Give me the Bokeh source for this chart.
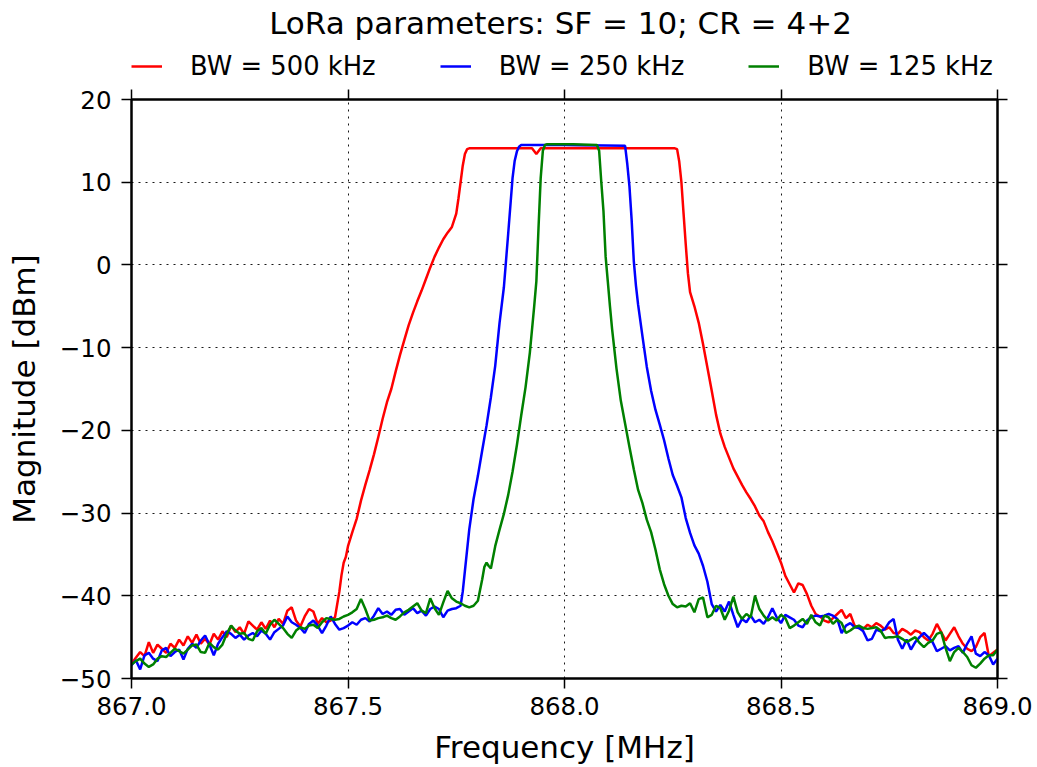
import numpy as np
from bokeh.plotting import figure
from bokeh.layouts import column
from bokeh.models import Range1d, FixedTicker, LinearAxis, Label, Legend, LegendItem
from bokeh.embed import file_html
from bokeh.resources import INLINE

FONT = "DejaVu Sans"

# ---------------- data ----------------
title_text = "LoRa parameters: SF = 10; CR = 4+2"
x_label = "Frequency [MHz]"
y_label = "Magnitude [dBm]"
series_names = ["BW = 500 kHz", "BW = 250 kHz", "BW = 125 kHz"]
series_colors = ["#ff0000", "#0000ff", "#008000"]
x_ticks = [867.0, 867.5, 868.0, 868.5, 869.0]
y_ticks = [-50, -40, -30, -20, -10, 0, 10, 20]

STEP = 0.01  # sampling step of the noise-floor segments [MHz]

# BW = 500 kHz
red_left_start = 867.00
red_left_mag = [-48.2, -47.5, -46.8, -47.3, -45.6, -46.9, -45.9, -46.4, -46.9, -45.8,
                -46.3, -45.3, -46.0, -44.9, -45.7, -44.7, -45.8, -45.2, -45.9, -44.6,
                -45.3, -44.3, -45.0, -43.6, -44.4, -43.8, -44.6, -43.1, -43.6, -44.1,
                -43.2, -44.0, -43.0, -43.8, -42.8, -43.4, -41.8, -41.4, -43.0, -43.7,
                -42.5, -41.6, -41.9, -43.4, -42.7, -43.2, -43.0, -42.6]
red_mid_freq = [867.48, 867.485, 867.49, 867.495, 867.50, 867.51, 867.52, 867.53, 867.54, 867.55,
                867.56, 867.57, 867.58, 867.59, 867.60, 867.61, 867.62, 867.63, 867.64, 867.65,
                867.66, 867.67, 867.68, 867.69, 867.70, 867.71, 867.72, 867.73, 867.74, 867.75,
                867.755, 867.76, 867.765, 867.77, 867.775, 867.78, 867.85, 867.925, 867.935, 867.945,
                868.0, 868.05, 868.1, 868.15, 868.2, 868.255, 868.26, 868.265, 868.27, 868.275,
                868.28, 868.285, 868.29, 868.30, 868.31, 868.32, 868.33, 868.34, 868.35, 868.36,
                868.37, 868.38, 868.39, 868.40, 868.41, 868.42, 868.43, 868.44, 868.45, 868.46,
                868.47, 868.48, 868.49, 868.50, 868.51, 868.52, 868.53, 868.54, 868.55, 868.56,
                868.57]
red_mid_mag = [-39.5, -37.5, -36.0, -35.3, -34.0, -32.3, -30.7, -28.5, -26.6, -24.8,
               -22.9, -20.8, -18.6, -16.6, -15.0, -12.9, -10.9, -9.1, -7.3, -5.8,
               -4.4, -3.1, -1.7, -0.3, 1.0, 2.1, 3.1, 3.9, 4.6, 6.2,
               8.0, 10.0, 12.0, 13.4, 14.0, 14.1, 14.1, 14.1, 13.4, 14.1,
               14.1, 14.15, 14.1, 14.1, 14.1, 14.1, 14.0, 12.5, 10.0, 6.2,
               2.5, -1.0, -3.3, -5.0, -7.0, -9.6, -12.4, -15.2, -18.1, -20.4,
               -22.0, -23.3, -24.6, -25.6, -26.6, -27.5, -28.3, -29.2, -30.3, -31.0,
               -32.3, -33.4, -34.7, -36.0, -37.6, -38.6, -39.6, -38.5, -38.7, -39.8,
               -41.2]
red_right_start = 868.58
red_right_mag = [-42.2, -42.5, -43.0, -43.2, -42.7, -42.2, -41.7, -42.7, -42.2, -43.6,
                 -43.9, -44.0, -43.5, -43.8, -43.3, -43.6, -44.1, -43.8, -44.5, -44.6,
                 -44.0, -44.3, -44.7, -44.2, -44.4, -45.0, -45.4, -44.6, -43.4, -44.4,
                 -45.4, -44.6, -43.8, -44.9, -45.8, -46.4, -46.7, -46.2, -45.0, -44.5,
                 -47.3, -46.9, -46.5]

# BW = 250 kHz
blue_left_start = 867.00
blue_left_mag = [-48.4, -47.8, -48.9, -47.2, -46.9, -47.6, -47.9, -46.6, -46.3, -47.3,
                 -46.8, -46.5, -47.7, -46.4, -45.8, -46.3, -45.4, -44.8, -45.9, -47.2,
                 -45.8, -45.0, -44.3, -44.6, -45.1, -44.7, -45.3, -44.8, -44.5, -44.9,
                 -44.2, -44.6, -45.3, -44.4, -44.0, -43.6, -42.5, -43.2, -43.5, -43.9,
                 -44.5, -43.4, -43.0, -43.6, -44.5, -43.6, -42.5, -43.4, -44.1, -43.9,
                 -43.6, -43.2, -43.5, -42.9, -42.7, -43.1, -42.4, -41.5, -42.2, -41.9,
                 -42.3, -41.7, -41.6, -42.3, -41.9, -41.5, -42.1, -41.8, -42.4, -41.6,
                 -41.3, -41.6, -42.6, -41.8, -41.6, -41.5, -41.2]
blue_mid_freq = [867.765, 867.77, 867.78, 867.79, 867.80, 867.81, 867.82, 867.83, 867.84, 867.85,
                 867.86, 867.87, 867.88, 867.885, 867.89, 867.895, 867.90, 868.0, 868.14, 868.145,
                 868.15, 868.155, 868.16, 868.165, 868.17, 868.18, 868.19, 868.20, 868.21, 868.22,
                 868.23, 868.24, 868.25, 868.26, 868.27, 868.28, 868.29, 868.30, 868.31, 868.32,
                 868.33, 868.34]
blue_mid_mag = [-39.5, -37.0, -32.0, -28.3, -25.5, -22.4, -19.4, -16.0, -12.2, -7.0,
                -2.7, 3.8, 10.5, 12.6, 13.7, 14.3, 14.5, 14.5, 14.4, 12.2,
                9.5, 5.5, 0.5, -2.5, -4.8, -8.6, -12.3, -15.2, -17.5, -19.3,
                -21.2, -23.4, -25.4, -26.7, -28.1, -30.6, -32.4, -33.9, -34.9, -36.4,
                -38.3, -41.0]
blue_right_start = 868.35
blue_right_mag = [-41.9, -41.1, -41.9, -40.7, -42.3, -43.8, -42.8, -43.2, -42.4, -43.2,
                  -42.9, -43.4, -42.6, -41.5, -42.6, -43.3, -42.3, -42.6, -42.9, -43.6,
                  -43.8, -43.0, -42.6, -42.4, -42.5, -42.4, -42.2, -42.4, -42.8, -44.5,
                  -43.6, -43.3, -43.8, -43.9, -44.3, -45.4, -45.2, -44.1, -44.3, -44.0,
                  -43.2, -42.8, -45.3, -46.4, -45.3, -46.5, -45.6, -45.0, -44.5, -45.0,
                  -45.6, -46.7, -46.4, -46.1, -46.6, -46.3, -46.1, -46.9, -45.8, -44.9,
                  -47.0, -47.3, -46.8, -47.2, -48.3, -47.6]

# BW = 125 kHz
green_left_start = 867.00
green_left_mag = [-48.3, -47.9, -47.6, -48.2, -48.6, -48.3, -47.6, -47.3, -47.4, -46.9,
                  -46.4, -46.7, -47.0, -46.5, -46.0, -45.9, -46.8, -46.9, -45.7, -46.2,
                  -46.5, -45.9, -44.6, -43.6, -44.2, -44.6, -44.5, -45.2, -45.4, -44.3,
                  -43.9, -44.6, -43.5, -42.9, -43.4, -43.9, -44.6, -45.1, -44.2, -43.8,
                  -44.0, -43.6, -43.5, -43.9, -43.2, -42.7, -42.8, -42.9, -42.8, -42.5,
                  -42.3, -42.0, -41.6, -40.4, -41.6, -43.0, -42.9, -42.7, -42.6, -42.4,
                  -42.7, -42.9, -42.5, -42.0, -41.7, -41.3, -40.9, -41.8, -42.1, -40.3,
                  -41.5, -42.3, -40.8, -39.4, -40.3, -40.7, -40.9, -41.2, -41.4, -41.2,
                  -40.6]
green_mid_freq = [867.81, 867.815, 867.82, 867.825, 867.83, 867.84, 867.85, 867.86, 867.87, 867.88,
                  867.89, 867.90, 867.91, 867.92, 867.93, 867.935, 867.94, 867.945, 867.95, 867.955,
                  867.96, 868.02, 868.075, 868.08, 868.085, 868.09, 868.095, 868.10, 868.105, 868.11,
                  868.12, 868.13, 868.14, 868.15, 868.16, 868.17, 868.18, 868.19, 868.20, 868.21,
                  868.22, 868.23, 868.24, 868.25, 868.26]
green_mid_mag = [-38.0, -36.5, -36.0, -36.4, -36.7, -34.0, -32.0, -30.1, -27.8, -25.0,
                 -21.8, -18.2, -14.8, -10.6, -5.0, -2.0, 4.5, 10.5, 13.8, 14.5,
                 14.6, 14.6, 14.5, 13.8, 10.0, 6.5, 1.0, -2.0, -5.0, -7.8,
                 -12.5, -16.4, -19.2, -22.0, -24.7, -27.2, -28.8, -30.8, -32.3, -34.4,
                 -36.8, -38.6, -40.0, -41.0, -41.4]
green_right_start = 868.27
green_right_mag = [-41.2, -41.3, -40.9, -42.0, -40.4, -40.2, -42.6, -42.3, -41.2, -41.5,
                   -42.9, -41.8, -40.1, -42.0, -42.8, -42.2, -42.6, -40.0, -41.6, -42.4,
                   -43.0, -42.6, -43.0, -42.3, -42.7, -43.9, -43.6, -43.2, -42.8, -43.4,
                   -42.3, -43.2, -43.6, -42.4, -42.6, -43.4, -42.9, -43.3, -44.5, -44.2,
                   -43.8, -43.6, -43.9, -44.0, -43.9, -43.8, -44.2, -45.1, -45.0, -45.0,
                   -44.9, -45.2, -45.6, -45.3, -45.0, -45.7, -46.2, -45.7, -45.4, -44.6,
                   -44.4, -46.3, -47.9, -46.8, -46.3, -46.8, -47.4, -48.4, -48.7, -48.2,
                   -47.6, -47.2, -47.2, -46.5]


def grid(start, values):
    return [round(start + STEP * i, 4) for i in range(len(values))]


def series(l_start, l_mag, m_freq, m_mag, r_start, r_mag):
    f = grid(l_start, l_mag) + list(m_freq) + grid(r_start, r_mag)
    v = list(l_mag) + list(m_mag) + list(r_mag)
    return f, v


freq_500, mag_500 = series(red_left_start, red_left_mag, red_mid_freq, red_mid_mag,
                           red_right_start, red_right_mag)
freq_250, mag_250 = series(blue_left_start, blue_left_mag, blue_mid_freq, blue_mid_mag,
                           blue_right_start, blue_right_mag)
freq_125, mag_125 = series(green_left_start, green_left_mag, green_mid_freq, green_mid_mag,
                           green_right_start, green_right_mag)
all_series = [(freq_500, mag_500), (freq_250, mag_250), (freq_125, mag_125)]

# ---------------- layout constants ----------------
W = 1037
HEAD_H = 85          # title + legend strip
FOOT_H = 39          # x-axis label strip
L, R = 131, 40       # frame left / right borders
T_MAIN, B_MAIN = 14, 50
FRAME_H = 579
MAIN_H = T_MAIN + FRAME_H + B_MAIN
FRAME_W = W - L - R
LW = 2.5


def strip_figure(height):
    f = figure(width=W, height=height, output_backend="svg", toolbar_location=None,
               x_axis_type=None, y_axis_type=None, title=None,
               x_range=Range1d(867.0, 869.0), y_range=Range1d(1000, 1001),
               min_border_left=L, min_border_right=R, min_border_top=0, min_border_bottom=0,
               background_fill_color="white", border_fill_color="white")
    f.outline_line_color = None
    f.xgrid.visible = False
    f.ygrid.visible = False
    return f


# ---------------- header: title + legend ----------------
head = strip_figure(HEAD_H)
head.add_layout(Label(x=FRAME_W / 2 - 4, y=HEAD_H - 22, x_units="screen", y_units="screen",
                      text=title_text, text_align="center", text_baseline="alphabetic",
                      text_font=FONT, text_font_size="31px", text_color="black"))
# legend swatches come from the real series, plotted outside this strip's visible range
key_lines = [head.line(f, v, line_color=c, line_width=LW)
             for (f, v), c in zip(all_series, series_colors)]
legend = Legend(items=[LegendItem(label=n, renderers=[r]) for n, r in zip(series_names, key_lines)],
                location=(0, HEAD_H - 81), orientation="horizontal",
                glyph_width=31, glyph_height=30, label_height=30, label_standoff=28,
                spacing=64, padding=0, margin=0,
                border_line_alpha=0, background_fill_alpha=0,
                label_text_font=FONT, label_text_font_size="25.8px", label_text_color="black")
head.add_layout(legend)

# ---------------- main plot ----------------
p = figure(width=W, height=MAIN_H, output_backend="svg", toolbar_location=None,
           x_range=Range1d(867.0, 869.0), y_range=Range1d(-50, 20), title=None,
           min_border_left=L, min_border_right=R, min_border_top=T_MAIN, min_border_bottom=B_MAIN,
           background_fill_color="white", border_fill_color="white")
p.outline_line_color = "black"
p.outline_line_width = 2

p.add_layout(LinearAxis(), "right")
p.add_layout(LinearAxis(), "above")

x_over = {t: f"{t:.1f}" for t in x_ticks}
y_over = {t: str(t).replace("-", "\u2212") for t in y_ticks}

for ax in p.xaxis:
    ax.ticker = FixedTicker(ticks=x_ticks)
    ax.major_label_overrides = x_over
for ax in p.yaxis:
    ax.ticker = FixedTicker(ticks=y_ticks)
    ax.major_label_overrides = y_over

for ax in p.axis:
    ax.axis_line_width = 2
    ax.axis_line_color = "black"
    ax.major_tick_in = 0
    ax.major_tick_out = 10
    ax.major_tick_line_width = 1.5
    ax.major_tick_line_color = "black"
    ax.minor_tick_in = 0
    ax.minor_tick_out = 0
    ax.major_label_text_font = FONT
    ax.major_label_text_font_size = "24.5px"
    ax.major_label_text_color = "black"
    ax.axis_label_text_font = FONT
    ax.axis_label_text_font_size = "31px"
    ax.axis_label_text_font_style = "normal"
    ax.axis_label_text_color = "black"

for ax in (p.right[0], p.above[0]):
    ax.major_label_text_alpha = 0
    ax.major_label_text_font_size = "1px"
    ax.major_label_standoff = 0

p.below[0].major_label_standoff = 8
p.left[0].axis_label = y_label
p.left[0].major_label_standoff = 10
p.left[0].axis_label_standoff = 15

for g in (p.xgrid[0], p.ygrid[0]):
    g.grid_line_color = "black"
    g.grid_line_alpha = 0.9
    g.grid_line_width = 1
    g.grid_line_dash = "2 5"

for (f, v), c in zip(all_series, series_colors):
    p.line(f, v, line_color=c, line_width=LW)

# ---------------- footer: x-axis label ----------------
foot = strip_figure(FOOT_H)
foot.add_layout(Label(x=FRAME_W / 2, y=FOOT_H - 18, x_units="screen", y_units="screen",
                      text=x_label, text_align="center", text_baseline="alphabetic",
                      text_font=FONT, text_font_size="31px", text_color="black"))

layout = column(head, p, foot, spacing=0)
open("out.html", "w").write(file_html(layout, INLINE))
